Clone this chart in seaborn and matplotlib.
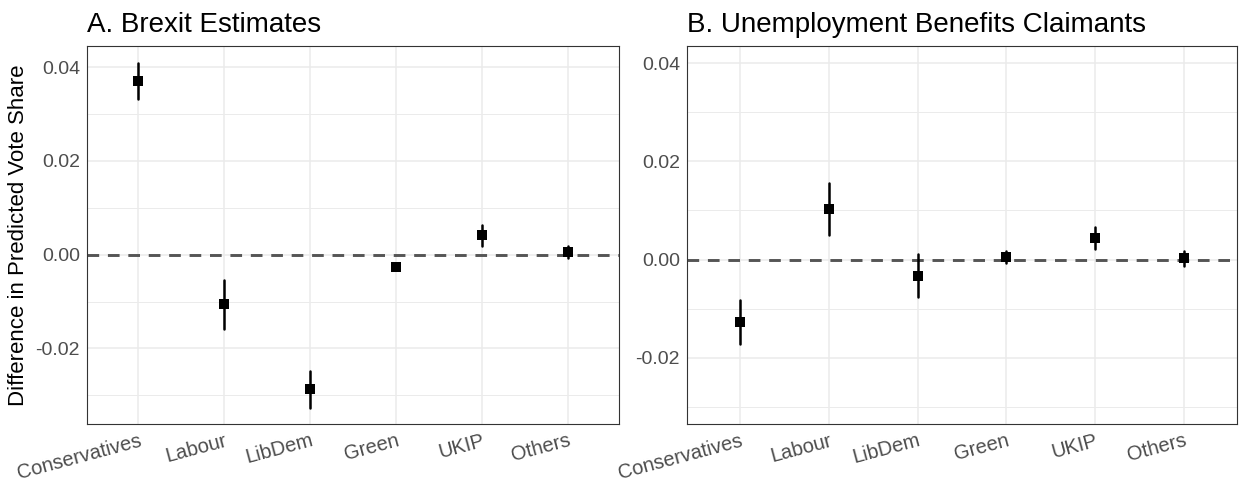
import numpy as np
import pandas as pd
import matplotlib
matplotlib.use("Agg")
import matplotlib.pyplot as plt
import seaborn as sns

# ---------------- data ----------------
parties = ["Conservatives", "Labour", "LibDem", "Green", "UKIP", "Others"]

brexit_est = [0.0370, -0.0106, -0.0286, -0.0027, 0.0042, 0.0006]
brexit_lo = [0.0332, -0.0158, -0.0327, -0.0033, 0.0019, -0.0007]
brexit_hi = [0.0409, -0.0053, -0.0247, -0.0021, 0.0063, 0.0018]

unemp_est = [-0.0127, 0.0102, -0.0033, 0.0006, 0.0044, 0.0003]
unemp_lo = [-0.0172, 0.0049, -0.0076, -0.0007, 0.0022, -0.0014]
unemp_hi = [-0.0083, 0.0156, 0.0012, 0.0018, 0.0066, 0.0018]

ytick_vals = [-0.02, 0.00, 0.02, 0.04]
ytick_labels = ["-0.02", "0.00", "0.02", "0.04"]
yminor_vals = [-0.03, -0.01, 0.01, 0.03]

titles = ["A. Brexit Estimates", "B. Unemployment Benefits Claimants"]
ylabel = "Difference in Predicted Vote Share"

# ---------------- style ----------------
sns.set_style("white")
plt.rcParams["font.family"] = ["Liberation Sans", "DejaVu Sans"]
plt.rcParams["axes.unicode_minus"] = False

GRID = "#EBEBEB"
BORDER = "#333333"
TICKTXT = "#4D4D4D"


def long_form(est, lo, hi):
    rows = []
    for p, e, l, h in zip(parties, est, lo, hi):
        for v in (l, e, h):
            rows.append({"party": p, "value": v})
    return pd.DataFrame(rows)


fig = plt.figure(figsize=(12.41, 4.83), dpi=100)
W, H = 1241, 483
axA = fig.add_axes([87 / W, (H - 424) / H, (619 - 87) / W, (424 - 46) / H])
axB = fig.add_axes([687 / W, (H - 424) / H, (1237 - 687) / W, (424 - 46) / H])

panels = [
    (axA, long_form(brexit_est, brexit_lo, brexit_hi), (-0.0361, 0.0445)),
    (axB, long_form(unemp_est, unemp_lo, unemp_hi), (-0.0335, 0.0435)),
]

for i, (ax, df, ylim) in enumerate(panels):
    ax.axhline(0, color="#555555", linewidth=2.1, linestyle=(0, (4.0, 3.0)), zorder=2)
    sns.pointplot(
        data=df, x="party", y="value", order=parties,
        estimator="median", errorbar=("pi", 100),
        color="black", marker="s", markersize=7.5, markeredgewidth=0,
        linestyle="none", err_kws={"linewidth": 1.8, "zorder": 3},
        ax=ax, zorder=4,
    )
    ax.set_xlim(-0.6, len(parties) - 0.4)
    ax.set_ylim(*ylim)
    ax.set_yticks(ytick_vals)
    ax.set_yticklabels(ytick_labels)
    ax.set_yticks(yminor_vals, minor=True)
    ax.set_xticks(range(len(parties)))
    ax.set_xticklabels(parties, rotation=15, ha="right", va="top",
                       rotation_mode="anchor")
    ax.grid(True, which="major", color=GRID, linewidth=1.1, zorder=0)
    ax.grid(True, which="minor", axis="y", color=GRID, linewidth=0.7, zorder=0)
    ax.set_axisbelow(True)
    for s in ax.spines.values():
        s.set_color(BORDER)
        s.set_linewidth(0.8)
        s.set_visible(True)
    ax.tick_params(axis="both", which="major", length=3, width=0.8,
                   color=BORDER, labelcolor=TICKTXT, pad=2)
    ax.tick_params(axis="y", labelsize=14)
    ax.tick_params(axis="x", labelsize=14.5)
    ax.tick_params(axis="y", which="minor", length=0)
    ax.set_xlabel("")
    ax.set_ylabel(ylabel if i == 0 else "", fontsize=16, color="black", labelpad=5)
    ax.set_title(titles[i], loc="left", fontsize=20, color="black", pad=10)

fig.savefig("out.png", dpi=100)
